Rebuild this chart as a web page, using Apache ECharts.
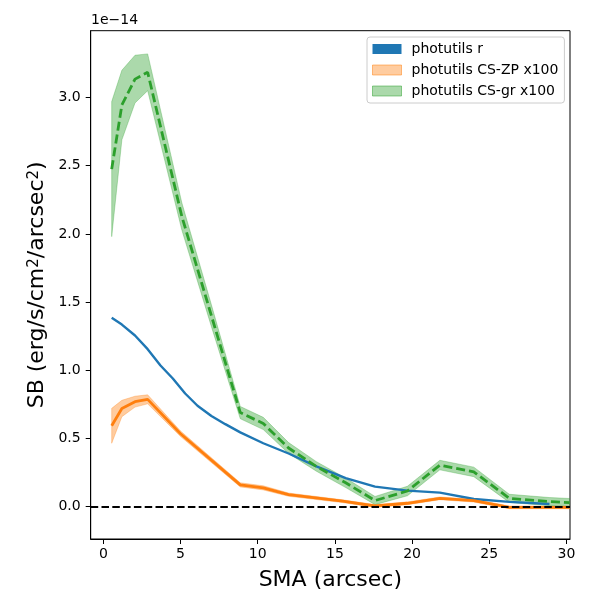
<!DOCTYPE html>
<html>
<head>
<meta charset="utf-8">
<script src="https://cdn.jsdelivr.net/npm/echarts@6/dist/echarts.min.js"></script>
<style>
  html, body { margin: 0; padding: 0; background: #fff; }
  #chart { width: 600px; height: 600px; }
</style>
</head>
<body>
<div id="chart"></div>
<script>
// values in units of 1e-14 erg/s/cm^2/arcsec^2
var smaR = [0.54, 1.2, 2.05, 2.87, 3.7, 4.5, 5.3, 6.1, 7.0, 7.9, 8.87, 10.36, 12.0, 13.8, 15.7, 17.6, 19.7, 21.8, 24.0, 26.3, 28.9];
var sbR = [1.385, 1.335, 1.255, 1.155, 1.035, 0.94, 0.83, 0.74, 0.665, 0.605, 0.545, 0.465, 0.39, 0.295, 0.21, 0.147, 0.118, 0.103, 0.056, 0.035, 0.02];

var smaZP = [0.54, 1.2, 2.05, 2.87, 5.0, 8.87, 10.36, 12.0, 15.5, 17.6, 19.7, 21.8, 24.0, 26.3, 28.9, 30.2];
var sbZP = [0.593, 0.72, 0.77, 0.787, 0.535, 0.16, 0.138, 0.088, 0.04, 0.005, 0.025, 0.061, 0.044, -0.005, -0.005, -0.005];
var errZP = [0.128, 0.06, 0.04, 0.033, 0.02, 0.015, 0.015, 0.012, 0.01, 0.01, 0.01, 0.01, 0.01, 0.01, 0.01, 0.01];

var smaGR = [0.54, 1.2, 2.05, 2.87, 5.08, 7.0, 8.87, 10.36, 12.0, 13.8, 15.7, 17.6, 19.7, 21.8, 24.0, 26.3, 28.9, 30.2];
var sbGR = [2.475, 2.945, 3.135, 3.185, 2.13, 1.40, 0.69, 0.61, 0.43, 0.295, 0.175, 0.045, 0.115, 0.305, 0.255, 0.061, 0.037, 0.03];
var errGR = [0.495, 0.255, 0.175, 0.135, 0.1, 0.08, 0.045, 0.045, 0.04, 0.035, 0.035, 0.03, 0.035, 0.035, 0.035, 0.03, 0.03, 0.03];

var xTicks = [0, 5, 10, 15, 20, 25, 30];
var yTicks = [0, 0.5, 1.0, 1.5, 2.0, 2.5, 3.0];

var FONT = 'DejaVu Sans';

function pairs(xs, ys) {
    return xs.map(function (x, i) { return [x, ys[i]]; });
}

function bandData(xs, ys, err) {
    return xs.map(function (x, i) { return [x, ys[i] - err[i], ys[i] + err[i]]; });
}

// one polygon for the whole band, like fill_between
function makeBand(xs, ys, err, fill, edge) {
    return function (params, api) {
        if (params.dataIndex !== 0) return null;
        var pts = [];
        for (var i = 0; i < xs.length; i++) pts.push(api.coord([xs[i], ys[i] + err[i]]));
        for (var j = xs.length - 1; j >= 0; j--) pts.push(api.coord([xs[j], ys[j] - err[j]]));
        return {
            type: 'polygon',
            shape: { points: pts },
            style: { fill: fill, stroke: edge, lineWidth: 1 }
        };
    };
}

var chart = echarts.init(document.getElementById('chart'), null, { renderer: 'canvas' });

var option = {
    animation: false,
    backgroundColor: '#fff',
    textStyle: { fontFamily: FONT },
    grid: {
        left: 90.7, top: 30.7, right: 30, bottom: 61,
        show: true, borderColor: '#000', borderWidth: 1, backgroundColor: 'transparent'
    },
    legend: {
        orient: 'vertical',
        left: 367, top: 37,
        padding: [5, 6, 5, 5],
        itemWidth: 29, itemHeight: 10, itemGap: 7,
        borderColor: '#cccccc', borderWidth: 1, borderRadius: 3,
        backgroundColor: 'rgba(255,255,255,0.8)',
        textStyle: { fontFamily: FONT, fontSize: 14, color: '#000', padding: [0, 0, 0, 5] },
        selectedMode: false,
        data: [
            { name: 'photutils r', icon: 'rect', itemStyle: { color: '#1f77b4', borderWidth: 0 } },
            { name: 'photutils CS-ZP x100', icon: 'rect', itemStyle: { color: 'rgba(255,127,14,0.4)', borderColor: 'rgba(255,127,14,0.5)', borderWidth: 1 } },
            { name: 'photutils CS-gr x100', icon: 'rect', itemStyle: { color: 'rgba(44,160,44,0.4)', borderColor: 'rgba(44,160,44,0.5)', borderWidth: 1 } }
        ]
    },
    graphic: [{
        type: 'text', left: 91, top: 13,
        style: { text: '1e\u221214', font: '14px "DejaVu Sans"', fill: '#000' }
    }],
    xAxis: {
        type: 'value',
        min: -0.82, max: 30.23,
        name: 'SMA (arcsec)',
        nameLocation: 'middle',
        nameGap: 30,
        nameMoveOverlap: false,
        nameTextStyle: { fontFamily: FONT, fontSize: 22, color: '#000' },
        axisLine: { onZero: false, lineStyle: { color: '#000', width: 1 } },
        axisTick: { show: true, inside: false, length: 5, lineStyle: { color: '#000' }, customValues: xTicks },
        axisLabel: { fontFamily: FONT, fontSize: 14, color: '#000', margin: 8, customValues: xTicks },
        splitLine: { show: false }
    },
    yAxis: {
        type: 'value',
        min: -0.237, max: 3.49,
        name: '{t|SB (erg/s/cm}{s|2}{t|/arcsec}{s|2}{t|)}',
        nameLocation: 'middle',
        nameGap: 42,
        nameMoveOverlap: false,
        nameTextStyle: {
            color: '#000',
            rich: {
                t: { fontFamily: FONT, fontSize: 22, lineHeight: 22, padding: [8, 0, 0, 0], verticalAlign: 'bottom', color: '#000' },
                s: { fontFamily: FONT, fontSize: 15, lineHeight: 15, verticalAlign: 'top', color: '#000' }
            }
        },
        axisLine: { show: true, onZero: false, lineStyle: { color: '#000', width: 1 } },
        axisTick: { show: true, inside: false, length: 5, lineStyle: { color: '#000' }, customValues: yTicks },
        axisLabel: {
            fontFamily: FONT, fontSize: 14, color: '#000', margin: 10, customValues: yTicks,
            formatter: function (v) { return v.toFixed(1); }
        },
        splitLine: { show: false }
    },
    series: [
        {
            name: 'photutils CS-ZP x100',
            type: 'custom',
            clip: true,
            z: 1,
            itemStyle: { color: 'rgba(255,127,14,0.4)' },
            encode: { x: 0, y: [1, 2] },
            data: bandData(smaZP, sbZP, errZP),
            renderItem: makeBand(smaZP, sbZP, errZP, 'rgba(255,127,14,0.4)', 'rgba(255,127,14,0.3)')
        },
        {
            name: 'photutils CS-gr x100',
            type: 'custom',
            clip: true,
            z: 1,
            itemStyle: { color: 'rgba(44,160,44,0.4)' },
            encode: { x: 0, y: [1, 2] },
            data: bandData(smaGR, sbGR, errGR),
            renderItem: makeBand(smaGR, sbGR, errGR, 'rgba(44,160,44,0.4)', 'rgba(44,160,44,0.3)')
        },
        {
            name: 'photutils r',
            type: 'line',
            z: 3,
            symbol: 'none',
            clip: true,
            lineStyle: { color: '#1f77b4', width: 2.4 },
            itemStyle: { color: '#1f77b4' },
            data: pairs(smaR, sbR),
            markLine: {
                silent: true,
                symbol: 'none',
                label: { show: false },
                lineStyle: { color: '#000', width: 2, type: [7.5, 3.3] },
                data: [{ yAxis: 0 }]
            }
        },
        {
            name: 'CS-ZP line',
            type: 'line',
            z: 4,
            symbol: 'none',
            clip: true,
            lineStyle: { color: '#ff7f0e', width: 2.8 },
            data: pairs(smaZP, sbZP)
        },
        {
            name: 'CS-gr line',
            type: 'line',
            z: 5,
            symbol: 'none',
            clip: true,
            lineStyle: { color: '#2ca02c', width: 2.8, type: [9, 4] },
            data: pairs(smaGR, sbGR)
        }
    ]
};

chart.setOption(option);
</script>
</body>
</html>
